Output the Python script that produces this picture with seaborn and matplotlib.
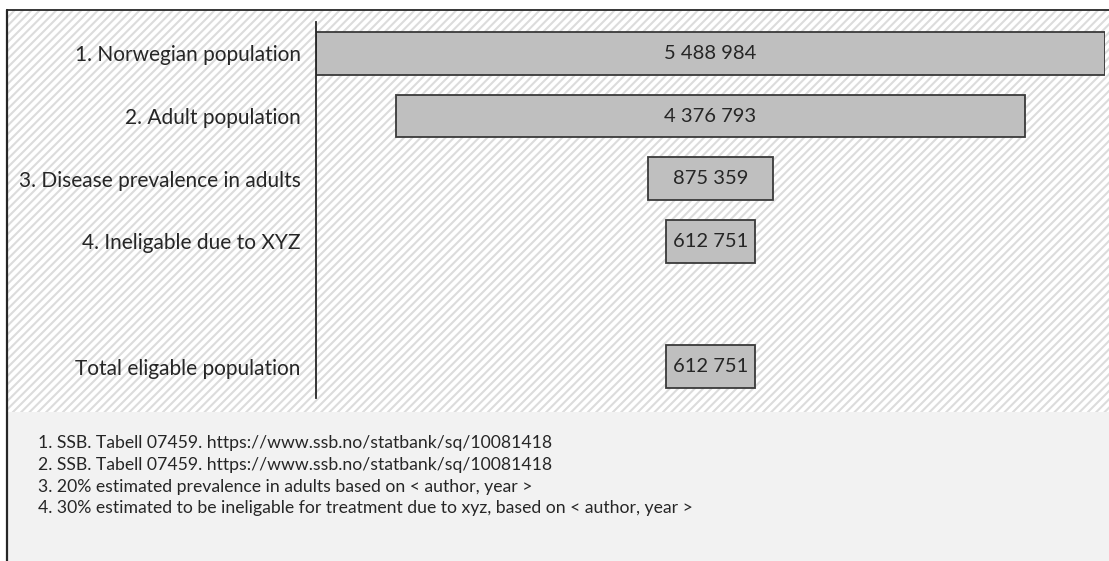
import matplotlib
matplotlib.use("Agg")
import matplotlib.pyplot as plt
import seaborn as sns
import pandas as pd
from matplotlib.patches import Rectangle
import matplotlib.lines as mlines

categories = ["1. Norwegian population", "2. Adult population",
              "3. Disease prevalence in adults", "4. Ineligable due to XYZ",
              " ", "Total eligable population"]
values = [5488984, 4376793, 875359, 612751, None, 612751]
footnotes = [
    "1. SSB. Tabell 07459. https://www.ssb.no/statbank/sq/10081418",
    "2. SSB. Tabell 07459. https://www.ssb.no/statbank/sq/10081418",
    "3. 20% estimated prevalence in adults based on < author, year >",
    "4. 30% estimated to be ineligable for treatment due to xyz, based on < author, year >",
]

sns.set_theme(style="white")
plt.rcParams['font.family'] = ['Lato', 'DejaVu Sans']
plt.rcParams['hatch.linewidth'] = 1.5

W, H = 1109, 561
fig = plt.figure(figsize=(W / 100, H / 100), dpi=100)
fig.patch.set_facecolor("white")

# hatched upper region and gray lower region
fig.patches.append(Rectangle((7 / W, 1 - 412 / H), 1 - 7 / W, (412 - 10) / H,
                             transform=fig.transFigure, facecolor="white",
                             edgecolor="#dcdcdc", hatch="////", linewidth=0, zorder=-3))
fig.patches.append(Rectangle((7 / W, 0), 1 - 7 / W, 1 - 412 / H,
                             transform=fig.transFigure, facecolor="#f2f2f2",
                             edgecolor="none", linewidth=0, zorder=-2))
fig.lines.append(mlines.Line2D([7 / W, 1], [1 - 10 / H, 1 - 10 / H],
                               transform=fig.transFigure, color="#262626", lw=1.3))
fig.lines.append(mlines.Line2D([7 / W, 7 / W], [0, 1 - 10 / H],
                               transform=fig.transFigure, color="#262626", lw=1.6))

ax = fig.add_axes([316 / W, 1 - 398 / H, (1105 - 316) / W, (398 - 22) / H])
ax.set_facecolor("none")

df = pd.DataFrame({"stage": [c for c, v in zip(categories, values) if v is not None],
                   "count": [v for v in values if v is not None]})

sns.barplot(data=df, x="count", y="stage", order=categories, orient="h", ax=ax,
            color="#bfbfbf", edgecolor="#3a3a3a", linewidth=1.3, width=0.68,
            saturation=1)

# center bars to form a funnel
for p in ax.patches:
    w = p.get_width()
    p.set_x(-w / 2)
    ax.text(0, p.get_y() + p.get_height() / 2, f"{int(round(w)):,}".replace(",", " "),
            ha="center", va="center", fontsize=14.5, color="#262626")

vmax = max(v for v in values if v is not None)
ax.set_xlim(-vmax / 2, vmax / 2)
ax.set_ylim(len(categories) - 0.5, -0.5)
ax.set_xlabel("")
ax.set_ylabel("")
ax.set_xticks([])
ax.tick_params(axis="y", length=0, pad=11, labelsize=15, labelcolor="#262626")
for s in ["top", "right", "bottom"]:
    ax.spines[s].set_visible(False)
ax.spines["left"].set_color("#262626")
ax.spines["left"].set_linewidth(1.3)

ys = [443, 465, 487, 508]
for t, y in zip(footnotes, ys):
    fig.text(38 / W, 1 - y / H, t, ha="left", va="center", fontsize=12.7, color="#262626")

fig.savefig("out.png", dpi=100)
